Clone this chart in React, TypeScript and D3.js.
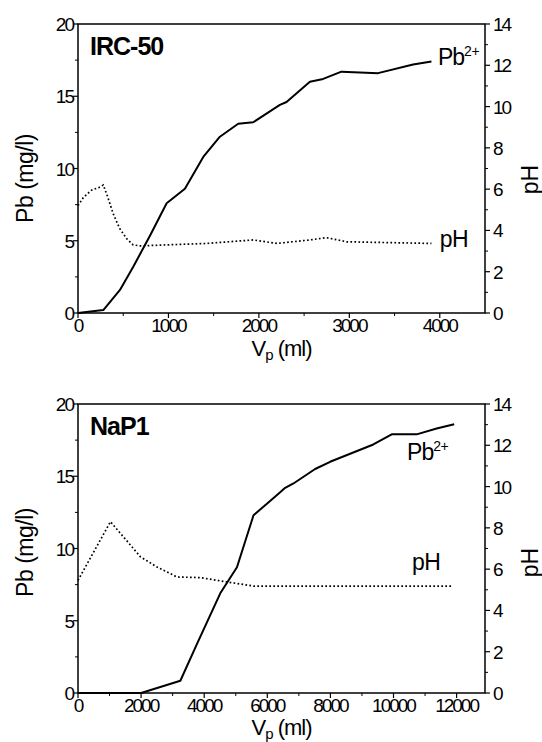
import React from "react";
import * as d3 from "d3";

// ---------- DATA ----------
// Panel 1: IRC-50
const ircPbX = [0, 280, 464, 611, 800, 980, 1182, 1385, 1569, 1771, 1937, 2232, 2306, 2564, 2711, 2913, 3318, 3705, 3908];
const ircPbY = [0, 0.2, 1.6, 3.2, 5.4, 7.6, 8.6, 10.8, 12.2, 13.1, 13.2, 14.4, 14.6, 16.0, 16.2, 16.7, 16.6, 17.2, 17.4];
const ircPhX = [0, 60, 150, 243, 280, 330, 390, 460, 538, 610, 685, 980, 1422, 1937, 2200, 2564, 2748, 2969, 3908];
const ircPhY = [5.2, 5.6, 5.95, 6.1, 6.2, 5.6, 4.8, 4.1, 3.6, 3.3, 3.25, 3.3, 3.37, 3.54, 3.37, 3.54, 3.65, 3.45, 3.37];

// Panel 2: NaP1
const napPbX = [0, 2000, 3244, 3772, 4509, 5038, 5563, 5775, 5987, 6408, 6566, 6829, 7516, 7991, 9361, 9943, 10734, 11367, 11924];
const napPbY = [0, 0, 0.85, 3.4, 6.9, 8.7, 12.3, 12.7, 13.1, 13.9, 14.2, 14.5, 15.5, 16.0, 17.2, 17.9, 17.9, 18.3, 18.6];
const napPhX = [0, 1028, 1978, 2506, 3139, 3877, 4722, 5563, 11842];
const napPhY = [5.46, 8.3, 6.6, 6.1, 5.62, 5.59, 5.38, 5.18, 5.18];

const pbTicks = [0, 5, 10, 15, 20];
const pbMinor = [2.5, 7.5, 12.5, 17.5];
const phTicks = [0, 2, 4, 6, 8, 10, 12, 14];
const phMinor = [1, 3, 5, 7, 9, 11, 13];
const ircXTicks = [0, 1000, 2000, 3000, 4000];
const ircXMinor = [500, 1500, 2500, 3500];
const napXTicks = [0, 2000, 4000, 6000, 8000, 10000, 12000];
const napXMinor = [1000, 3000, 5000, 7000, 9000, 11000];

const FONT = "'Liberation Sans', Arial, Helvetica, sans-serif";

type PanelProps = {
  top: number;
  title: string;
  xMax: number;
  xTicks: number[];
  xMinor: number[];
  pbX: number[];
  pbY: number[];
  phX: number[];
  phY: number[];
  pbLabel: [number, number];
  phLabel: [number, number];
  leftTitleOffset: number;
  rightTitleOffset: number;
  xTitleDy: number;
};

const LEFT = 78;
const RIGHT = 485;
const H = 289;

function Panel(p: PanelProps) {
  const x = d3.scaleLinear().domain([0, p.xMax]).range([LEFT, RIGHT]);
  const yPb = d3.scaleLinear().domain([0, 20]).range([p.top + H, p.top]);
  const yPh = d3.scaleLinear().domain([0, 14]).range([p.top + H, p.top]);
  const pbLine = d3.line<number>().x((_, i) => x(p.pbX[i])).y((v) => yPb(v));
  const phLine = d3.line<number>().x((_, i) => x(p.phX[i])).y((v) => yPh(v));
  const bottom = p.top + H;
  const tickFont = { fontFamily: FONT, fontSize: 19, letterSpacing: -2 } as const;
  const midY = p.top + H / 2;
  return (
    <g>
      {/* frame */}
      <rect x={LEFT} y={p.top} width={RIGHT - LEFT} height={H} fill="none" stroke="#000" strokeWidth={1.5} />
      {/* left axis ticks */}
      {pbTicks.map((t) => (
        <g key={"l" + t}>
          <line x1={LEFT - 5} x2={LEFT} y1={yPb(t)} y2={yPb(t)} stroke="#000" strokeWidth={1.2} />
          <text x={LEFT - 5} y={yPb(t) + 7} textAnchor="end" {...tickFont}>{t}</text>
        </g>
      ))}
      {pbMinor.map((t) => (
        <line key={"lm" + t} x1={LEFT - 3} x2={LEFT} y1={yPb(t)} y2={yPb(t)} stroke="#000" strokeWidth={1} />
      ))}
      {/* right axis ticks */}
      {phTicks.map((t) => (
        <g key={"r" + t}>
          <line x1={RIGHT} x2={RIGHT + 5} y1={yPh(t)} y2={yPh(t)} stroke="#000" strokeWidth={1.2} />
          <text x={RIGHT + 8} y={yPh(t) + 7} textAnchor="start" {...tickFont}>{t}</text>
        </g>
      ))}
      {phMinor.map((t) => (
        <line key={"rm" + t} x1={RIGHT} x2={RIGHT + 3} y1={yPh(t)} y2={yPh(t)} stroke="#000" strokeWidth={1} />
      ))}
      {/* bottom axis ticks */}
      {p.xTicks.map((t) => (
        <g key={"b" + t}>
          <line x1={x(t)} x2={x(t)} y1={bottom} y2={bottom + 5} stroke="#000" strokeWidth={1.2} />
          <text x={x(t)} y={bottom + 19} textAnchor="middle" {...tickFont}>{t}</text>
        </g>
      ))}
      {p.xMinor.map((t) => (
        <line key={"bm" + t} x1={x(t)} x2={x(t)} y1={bottom} y2={bottom + 3} stroke="#000" strokeWidth={1} />
      ))}
      {/* series */}
      <path d={pbLine(p.pbY) || ""} fill="none" stroke="#000" strokeWidth={2} strokeLinejoin="round" />
      <path d={phLine(p.phY) || ""} fill="none" stroke="#000" strokeWidth={1.7} strokeDasharray="1.7,2.3" />
      {/* panel title */}
      <text x={LEFT + 12} y={p.top + 31} fontFamily={FONT} fontWeight="bold" fontSize={25} letterSpacing={-1}>{p.title}</text>
      {/* series labels */}
      <text x={x(p.pbLabel[0])} y={yPb(p.pbLabel[1])} fontFamily={FONT} fontSize={23} letterSpacing={-1}>
        Pb<tspan fontSize={14} dy={-9} letterSpacing={-0.5}>2+</tspan>
      </text>
      <text x={x(p.phLabel[0])} y={yPh(p.phLabel[1])} fontFamily={FONT} fontSize={23} letterSpacing={-0.5}>pH</text>
      {/* axis titles */}
      <text transform={`translate(33,${midY + p.leftTitleOffset}) rotate(-90)`} textAnchor="middle" fontFamily={FONT} fontSize={23} letterSpacing={-0.5}>Pb (mg/l)</text>
      <text transform={`translate(538,${midY + p.rightTitleOffset}) rotate(-90)`} textAnchor="middle" fontFamily={FONT} fontSize={23}>pH</text>
      <text x={(LEFT + RIGHT) / 2} y={bottom + p.xTitleDy} textAnchor="middle" fontFamily={FONT} fontSize={22} letterSpacing={-1}>
        V<tspan fontSize={15} dy={4}>p</tspan><tspan dy={-4}> (ml)</tspan>
      </text>
    </g>
  );
}

export default function App() {
  return (
    <svg width={542} height={742} viewBox="0 0 542 742" style={{ position: "absolute", left: 0, top: 0, background: "#fff" }}>
      <rect x={0} y={0} width={542} height={742} fill="#fff" />
      <Panel
        top={24}
        title="IRC-50"
        xMax={4500}
        xTicks={ircXTicks}
        xMinor={ircXMinor}
        pbX={ircPbX}
        pbY={ircPbY}
        phX={ircPhX}
        phY={ircPhY}
        pbLabel={[3980, 17.15]}
        phLabel={[4000, 3.2]}
        leftTitleOffset={10}
        rightTitleOffset={11}
        xTitleDy={43}
      />
      <Panel
        top={404}
        title="NaP1"
        xMax={12900}
        xTicks={napXTicks}
        xMinor={napXMinor}
        pbX={napPbX}
        pbY={napPbY}
        phX={napPhX}
        phY={napPhY}
        pbLabel={[10430, 16.1]}
        phLabel={[10585, 5.95]}
        leftTitleOffset={4}
        rightTitleOffset={14}
        xTitleDy={42}
      />
    </svg>
  );
}
